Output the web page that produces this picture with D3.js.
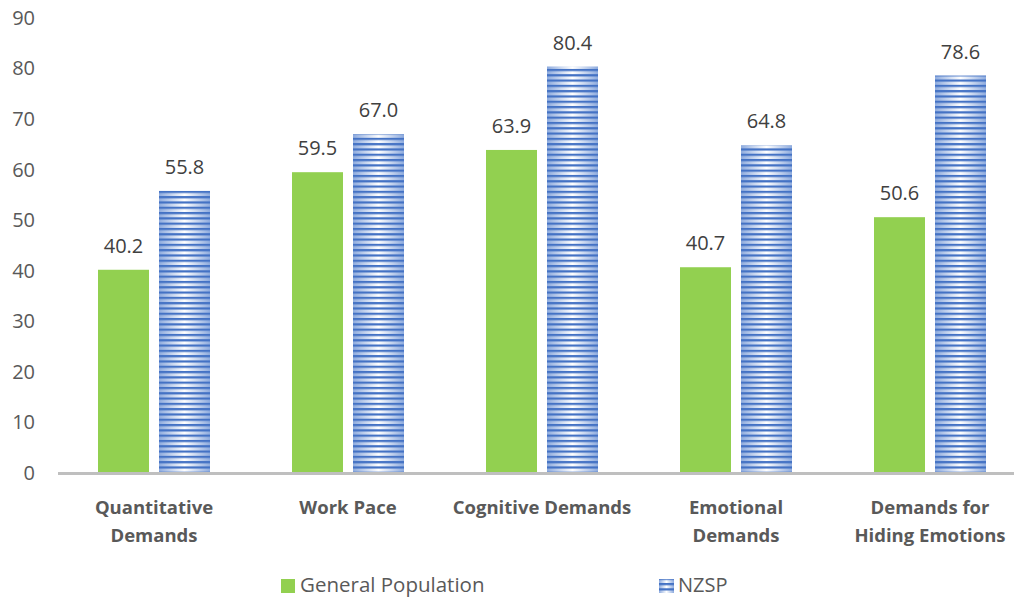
<!DOCTYPE html>
<html><head><meta charset="utf-8">
<script src="https://cdn.jsdelivr.net/npm/d3@7"></script>
<style>body{margin:0;background:#fff}svg{display:block}text{font-family:"Open Sans",sans-serif}</style>
</head><body><svg id="c" width="1014" height="598"></svg>
<script>
const categories = [["Quantitative","Demands"],["Work Pace"],["Cognitive Demands"],["Emotional","Demands"],["Demands for","Hiding Emotions"]];
const seriesNames = ["General Population","NZSP"];
const generalPopulation = [40.2, 59.5, 63.9, 40.7, 50.6];
const nzsp = [55.8, 67.0, 80.4, 64.8, 78.6];
const yTicks = [0,10,20,30,40,50,60,70,80,90];

const svg = d3.select("#c");
const defs = svg.append("defs");
const grad = defs.append("linearGradient").attr("id","bg").attr("x1","0").attr("x2","1").attr("y1","0").attr("y2","0");
grad.append("stop").attr("offset","0").attr("stop-color","#8EABDE");
grad.append("stop").attr("offset","0.5").attr("stop-color","#FFFFFF");
grad.append("stop").attr("offset","1").attr("stop-color","#8EABDE");
const pat = defs.append("pattern").attr("id","stripes").attr("patternUnits","userSpaceOnUse").attr("width",10).attr("height",5.3);
pat.append("rect").attr("x",0).attr("y",0).attr("width",10).attr("height",2.2).attr("fill","#4472C4");

const x0 = d3.scaleBand().domain(d3.range(categories.length)).range([57,1027]);
const y = d3.scaleLinear().domain([0,90]).range([473,18]);
const barW = 51, gap = 10;

// y axis labels
const yAxis = d3.axisLeft(y).tickValues(yTicks).tickSize(0).tickPadding(0).tickFormat(d3.format("d"));
const ya = svg.append("g").attr("transform","translate(35,0)").call(yAxis);
ya.select(".domain").remove();
ya.selectAll("text").attr("font-size",20).attr("fill","#595959").attr("font-family","'Open Sans',sans-serif");

// bars
const g = svg.append("g");
categories.forEach((c,i)=>{
  const cx = x0(i)+x0.bandwidth()/2;
  const gx = cx - gap/2 - barW, bx = cx + gap/2;
  g.append("rect").attr("x",gx).attr("y",y(generalPopulation[i])).attr("width",barW).attr("height",y(0)-y(generalPopulation[i])).attr("fill","#92D050");
  g.append("rect").attr("x",bx).attr("y",y(nzsp[i])).attr("width",barW).attr("height",y(0)-y(nzsp[i])).attr("fill","url(#bg)");
  g.append("rect").attr("x",bx).attr("y",y(nzsp[i])).attr("width",barW).attr("height",y(0)-y(nzsp[i])).attr("fill","url(#stripes)");
  g.append("text").attr("x",gx+barW/2).attr("y",y(generalPopulation[i])-17).attr("text-anchor","middle").attr("font-size",20).attr("fill","#404040").text(generalPopulation[i].toFixed(1));
  g.append("text").attr("x",bx+barW/2).attr("y",y(nzsp[i])-17).attr("text-anchor","middle").attr("font-size",20).attr("fill","#404040").text(nzsp[i].toFixed(1));
  const lab = svg.append("text").attr("text-anchor","middle").attr("font-size",18.5).attr("font-weight","bold").attr("fill","#595959");
  c.forEach((line,j)=>lab.append("tspan").attr("x",cx).attr("y",514+j*27.5).text(line));
});

// x axis line
svg.append("line").attr("x1",58).attr("x2",1014).attr("y1",473.5).attr("y2",473.5).attr("stroke","#BFBFBF").attr("stroke-width",3);

// legend
const leg = svg.append("g");
leg.append("rect").attr("x",281).attr("y",579).attr("width",14).attr("height",14).attr("fill","#92D050");
leg.append("text").attr("x",300).attr("y",592).attr("font-size",20.5).attr("fill","#595959").text(seriesNames[0]);
leg.append("rect").attr("x",659).attr("y",579).attr("width",15).attr("height",14).attr("fill","url(#bg)");
leg.append("rect").attr("x",659).attr("y",579).attr("width",15).attr("height",14).attr("fill","url(#stripes)");
leg.append("text").attr("x",678).attr("y",592).attr("font-size",20).attr("fill","#595959").text(seriesNames[1]);
</script></body></html>
